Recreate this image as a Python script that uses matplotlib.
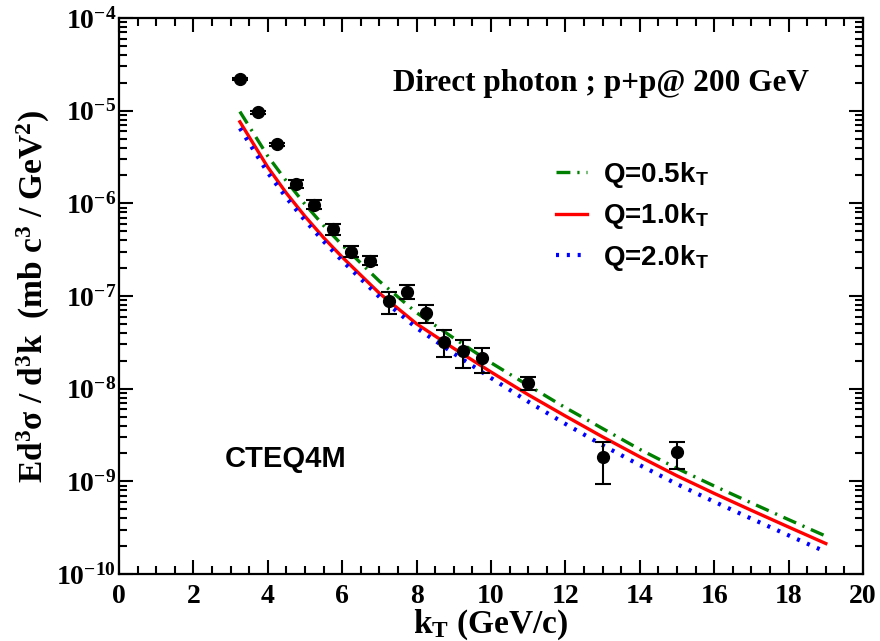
import matplotlib

matplotlib.use("Agg")
import matplotlib.pyplot as plt
import numpy as np
from matplotlib.ticker import FuncFormatter, LogLocator, MultipleLocator, NullFormatter

plt.rcParams.update({
    "font.family": "Liberation Serif",
    "font.weight": "bold",
    "axes.labelweight": "bold",
    "mathtext.fontset": "custom",
    "mathtext.rm": "Liberation Serif:bold",
    "mathtext.it": "Liberation Serif:bold",
    "mathtext.bf": "Liberation Serif:bold",
    "mathtext.sf": "Liberation Sans:bold",
    "lines.scale_dashes": False,
})

# measured points (kT in GeV/c, cross section in mb c^3/GeV^2)
kt_data = [3.25, 3.75, 4.25, 4.75, 5.25, 5.75, 6.25, 6.75, 7.25, 7.75, 8.25, 8.75, 9.25, 9.75, 11.0, 13.0, 15.0]
xs_data = [2.20e-5, 9.6e-6, 4.34e-6, 1.62e-6, 9.6e-7, 5.23e-7, 3.01e-7, 2.39e-7, 8.85e-8, 1.11e-7,
           6.62e-8, 3.22e-8, 2.56e-8, 2.15e-8, 1.16e-8, 1.82e-9, 2.05e-9]
xs_high = [2.28e-5, 9.9e-6, 4.48e-6, 1.79e-6, 1.09e-6, 5.95e-7, 3.47e-7, 2.71e-7, 1.11e-7, 1.32e-7,
           8.07e-8, 4.34e-8, 3.39e-8, 2.77e-8, 1.35e-8, 2.69e-9, 2.67e-9]
xs_low = [2.12e-5, 9.3e-6, 4.20e-6, 1.46e-6, 8.6e-7, 4.56e-7, 2.66e-7, 2.15e-7, 6.41e-8, 9.31e-8,
          5.16e-8, 2.19e-8, 1.69e-8, 1.47e-8, 9.6e-9, 9.3e-10, 1.37e-9]

# NLO curves, log10 of the cross section
kt_curve = [3.25, 4.0, 4.5, 5.0, 5.5, 6.0, 7.0, 8.0, 9.0, 10.0, 11.0, 12.0, 13.0, 14.0, 15.0, 16.0, 17.0, 18.0, 19.0]
log_q05 = [-5.01, -5.49, -5.76, -6.01, -6.24, -6.45, -6.84, -7.18, -7.455, -7.72, -7.965, -8.205, -8.43,
           -8.655, -8.86, -9.05, -9.233, -9.413, -9.591]
log_q10 = [-5.12, -5.61, -5.89, -6.14, -6.37, -6.58, -6.97, -7.30, -7.565, -7.82, -8.065, -8.295, -8.52,
           -8.735, -8.94, -9.13, -9.313, -9.493, -9.671]
log_q20 = [-5.19, -5.67, -5.94, -6.185, -6.41, -6.62, -7.01, -7.345, -7.62, -7.885, -8.14, -8.38, -8.61,
           -8.825, -9.03, -9.22, -9.403, -9.583, -9.761]

fig = plt.figure(figsize=(8.8, 6.41), dpi=100)
ax = fig.add_axes([0.1352, 0.1045, 0.8455, 0.8674])

kt_c = np.array(kt_curve)
ax.plot(kt_c, 10.0 ** np.array(log_q05), color="#008000", linewidth=2.4,
        linestyle=(0, (10, 5, 1.6, 5)), label=r"Q=0.5k$_\mathsf{T}$")
ax.plot(kt_c, 10.0 ** np.array(log_q10), color="#ff0000", linewidth=2.4, label=r"Q=1.0k$_\mathsf{T}$")
ax.plot(kt_c, 10.0 ** np.array(log_q20), color="#0000ff", linewidth=3.0,
        linestyle=(0, (2.2, 5.6)), label=r"Q=2.0k$_\mathsf{T}$")

y = np.array(xs_data)
yerr = [y - np.array(xs_low), np.array(xs_high) - y]
ax.errorbar(kt_data, y, yerr=yerr, fmt="o", color="black", markersize=8.5,
            elinewidth=1.5, capsize=5.5, capthick=1.5, zorder=5)

ax.set_yscale("log")
ax.set_xlim(0, 20)
ax.set_ylim(1e-10, 1e-4)
ax.xaxis.set_major_locator(MultipleLocator(2))
ax.xaxis.set_minor_locator(MultipleLocator(0.5))
ax.yaxis.set_major_locator(LogLocator(base=10, numticks=10))
ax.yaxis.set_minor_locator(LogLocator(base=10, subs=np.arange(2, 10), numticks=20))
ax.yaxis.set_minor_formatter(NullFormatter())
ax.yaxis.set_major_formatter(FuncFormatter(lambda v, p: r"$\mathrm{10^{%d}}$" % round(np.log10(v))))
ax.tick_params(which="both", direction="in", top=True, right=True, width=1.5, labelsize=20)
ax.tick_params(axis="x", pad=7)
ax.tick_params(axis="y", pad=2)
ax.tick_params(which="major", length=10)
ax.tick_params(which="minor", length=5.5)
for s in ax.spines.values():
    s.set_linewidth(1.6)

ax.set_xlabel(r"k$_\mathrm{T}$ (GeV/c)", fontsize=24, labelpad=-1)
ax.set_ylabel(r"Ed$^3\sigma$ / d$^3$k  (mb c$^3$ / GeV$^2$)", fontsize=24, labelpad=3)

ax.text(0.368, 0.883, "Direct photon ; p+p@ 200 GeV", transform=ax.transAxes,
        fontsize=22.5, va="center", ha="left")
ax.text(0.142, 0.206, "CTEQ4M", transform=ax.transAxes, family="Liberation Sans",
        fontsize=21, va="center", ha="left")

ax.legend(loc="upper left", bbox_to_anchor=(0.5726, 0.765), frameon=False,
          prop={"family": "Liberation Sans", "weight": "bold", "size": 20},
          handlelength=1.1, handletextpad=0.58, labelspacing=0.42, borderaxespad=0)

fig.savefig("out.png", dpi=100)
